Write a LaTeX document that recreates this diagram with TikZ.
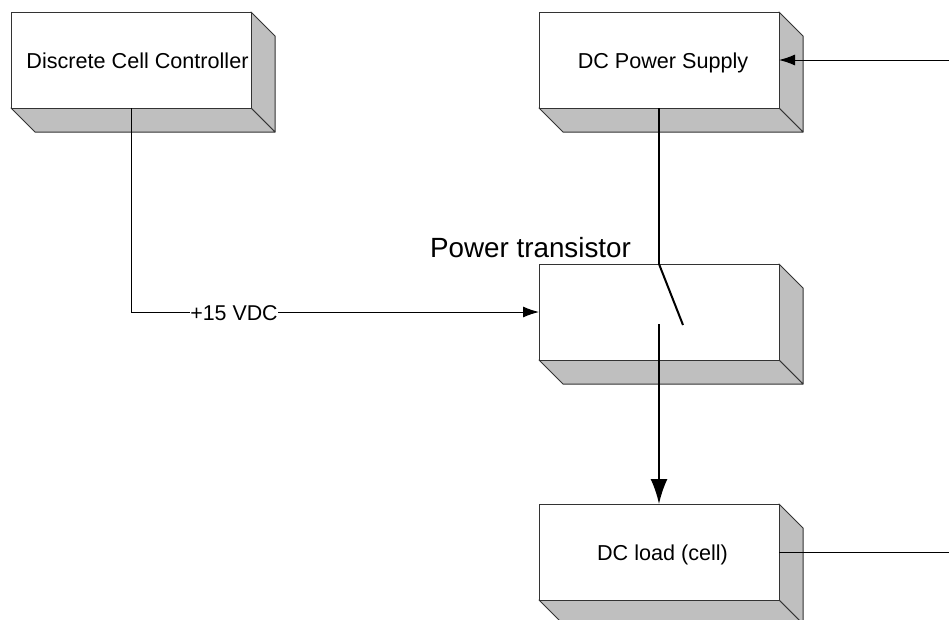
\documentclass[tikz,border=0pt]{standalone}
\usepackage{fontspec}
\setmainfont{Liberation Sans}
\usetikzlibrary{calc,arrows.meta}
\pgfdeclarelayer{background}
\pgfsetlayers{background,main}
\tikzset{
  block/.style={rectangle,draw=black!80,fill=white,line width=1pt,outer sep=0pt,minimum width=240pt,minimum height=96pt,inner sep=0pt,text height=16pt,text depth=0pt,font=\fontsize{21.6}{25}\selectfont},
  face/.style={draw=black!80,fill=black!25,line width=1pt,line join=round},
  wire/.style={line width=1pt,black},
  buswire/.style={line width=2pt,black}
}
% shaded sides of a block
\newcommand{\blockfaces}[1]{
  \begin{pgfonlayer}{background}
    \draw[face] (#1.north east) -- ++(24,24) -- ++(0,96) -- ++(-24,-24) -- cycle;
    \draw[face] (#1.south west) -- ++(24,24) -- ++(240,0) -- ++(-24,-24) -- cycle;
  \end{pgfonlayer}
}

\begin{document}
\begin{tikzpicture}[x=1pt,y=-1pt]
  \useasboundingbox (0,0) rectangle (949,619);
  \draw(131,60) node[block] (ctrl) {\hspace*{13pt}Discrete Cell Controller};
  \draw(659,60) node[block] (supply) {\hspace*{8pt}DC Power Supply};
  \draw(659,312) node[block] (xstr) {};
  \draw(659,552) node[block] (load) {\hspace*{7pt}DC load (cell)};
  \blockfaces{ctrl}
  \blockfaces{supply}
  \blockfaces{xstr}
  \blockfaces{load}
  \draw(530.5,248) node[font=\fontsize{27.8}{32}\selectfont] (xstrlabel) {Power transistor};
  \coordinate (linein) at (949,60);
  \coordinate (lineout) at (949,552);
  \coordinate (contact) at (659,324);
  \coordinate (throw) at (683,325);
  % control line
  \draw[wire,-{Latex[length=16pt,width=11pt]}] (ctrl.south) |- (xstr.west);
  \draw(234,313) node[fill=white,inner sep=0.5pt,font=\fontsize{21.4}{25}\selectfont] (vdc) {+15 VDC};
  \draw[wire,-{Latex[length=16pt,width=11pt]}] (linein) -- (supply.east);
  \draw[wire] (load.east) -- (lineout);
  % switched path
  \draw[buswire] (supply.south) -- (xstr.north);
  \draw[buswire] (xstr.north) -- (throw);
  \draw[buswire,-{Latex[length=25pt,width=17pt]}] (contact) -- (load.north);
\end{tikzpicture}
\end{document}
